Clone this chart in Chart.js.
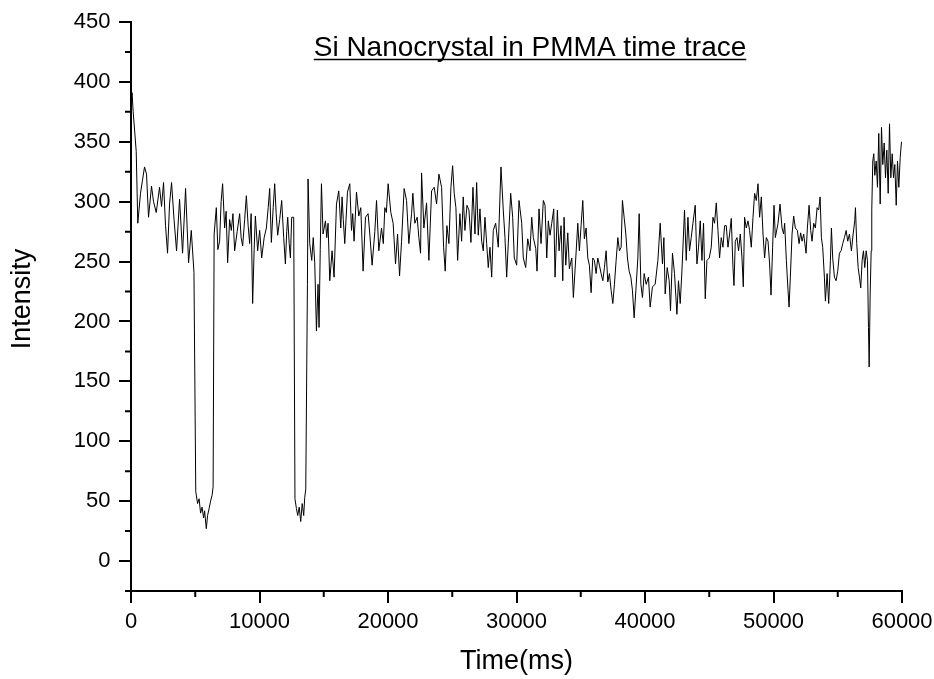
<!DOCTYPE html>
<html><head><meta charset="utf-8">
<script src="https://cdn.jsdelivr.net/npm/chart.js@4"></script>
<style>html,body{margin:0;padding:0;background:#fff}canvas{display:block}</style>
</head><body>
<canvas id="c" width="934" height="679"></canvas>
<script>
const titleText = 'Si Nanocrystal in PMMA time trace';
const xTitle = 'Time(ms)';
const yTitle = 'Intensity';
const xTickValues = [0, 10000, 20000, 30000, 40000, 50000, 60000];
const xMinorTicks = [5000, 15000, 25000, 35000, 45000, 55000];
const yTickValues = [0, 50, 100, 150, 200, 250, 300, 350, 400, 450];
const yMinorTicks = [-25, 25, 75, 125, 175, 225, 275, 325, 375, 425];

const timeMs = [0,80,170,405,530,740,896,1052,1208,1364,1597,1753,1964,2221,2377,2532,2688,2844,3000,3156,3350,3545,3779,4013,4247,4481,4691,4900,
5040,5180,5300,5415,5530,5650,5727,5860,5960,6080,6195,6310,6390,6470,6640,6760,6896,7013,7130,7286,7403,7520,7675,7808,7932,8065,8260,8455,8571,8688,8844,8977,9117,9234,9350,9467,9584,9678,9857,10013,10169,10363,10535,10675,10792,10924,11065,11182,11298,11415,11571,11727,11883,12015,12117,12195,12311,12405,12506,12662,
12760,12872,12974,13090,13207,13324,13441,13519,13600,13730,13777,13909,14065,14182,14298,14431,14556,14634,14727,14821,14946,15133,15234,15335,15468,15647,15803,15990,16169,16325,16426,16520,16636,16847,17026,17159,17252,17361,17548,17727,17883,18062,18249,18452,18584,18763,18974,19107,19286,19496,19636,19753,
19870,20010,20220,20400,20587,20743,20899,21055,21257,21444,21623,21833,21935,22090,22270,22402,22535,22613,22792,23002,23182,23392,23594,23781,23961,24171,24327,24452,24584,24740,24896,25028,25153,25285,25418,25597,25730,25854,25987,26143,26299,26455,26611,26767,26899,27024,27156,27289,27413,27546,27678,27803,27935,28068,28192,28379,28582,28792,28971,29103,29236,29360,29547,29703,29828,30015,30195,
30273,30405,30530,30717,30873,31052,31185,31310,31497,31597,31753,31909,32088,32220,32353,32478,32610,32743,32898,33000,33180,33312,33468,33601,33702,33834,33990,34114,34302,34426,34613,34769,34894,35026,35158,35283,35415,35548,35672,35805,35937,36062,36195,36327,36452,36584,36717,36841,36974,37106,37231,37363,37496,37621,37753,37886,38010,38143,38244,38376,38509,38634,38766,38899,39023,39156,39289,39444,39546,39678,39803,39935,40091,
40270,40401,40581,40791,41002,41181,41360,41469,41571,41727,41882,41984,42140,42296,42483,42607,42740,42873,42997,43075,43208,43341,43465,43598,43730,43909,44042,44167,44299,44432,44556,44689,44821,45000,45156,45289,45413,45546,45678,45803,45935,46068,46193,46325,46458,46582,46715,46847,46925,47026,47159,47282,47415,47548,47649,47750,47883,48015,48140,48272,48405,48530,48662,48794,48919,49052,49184,49309,49441,49574,49698,49807,49932,50041,50143,
50353,50509,50665,50789,50867,51000,51132,51210,51311,51444,51569,51701,51857,51990,52114,52223,52348,52535,52636,52769,52893,53002,53127,53259,53392,53517,53626,53727,53828,53961,54039,54171,54296,54429,54507,54608,54741,54873,54998,55130,55262,55387,55520,55652,55777,55909,56065,56198,56322,56377,56478,56587,56688,56789,56899,57000,57102,57211,57312,57390,57445,57523,57601,57648,57726,57804,57882,57991,58092,58193,58303,58404,58505,58614,58716,58817,58926,59028,59129,59238,59340,59441,59550,59651,59752,59861,59962];

const intensity = [370,391,375,342,282,307,318,329,323,287,313,300,291,312,296,316,280,257,298,316,285,259,302,257,311,249,276,241,
58,48,52,40,45,36,42,27,38,44,50,55,62,273,295,260,267,300,315,278,292,249,285,276,290,259,275,290,270,263,285,305,280,265,290,215,260,288,259,276,253,270,278,295,311,266,295,315,290,272,285,301,270,248,275,287,265,253,287,287,
52,44,38,45,33,48,38,53,60,231,319,265,251,270,249,192,231,195,260,315,273,284,270,282,234,259,237,298,309,278,304,285,265,308,315,276,290,267,308,288,295,242,287,290,273,247,275,301,259,278,265,295,
291,315,291,282,248,273,238,267,311,301,265,290,307,282,287,270,257,324,278,299,251,309,312,298,323,312,262,242,280,265,312,330,307,295,251,290,267,304,276,297,293,266,312,273,316,272,294,267,259,287,265,245,262,237,276,282,262,329,293,270,237,265,307,287,253,247,301,
294,282,253,245,269,259,287,270,261,242,294,265,301,297,253,284,272,282,294,237,293,259,280,234,287,247,274,244,253,220,253,282,259,280,301,269,278,253,247,224,253,251,240,253,247,240,234,245,259,233,240,226,215,231,251,270,259,262,301,287,273,253,242,237,226,203,226,253,290,231,220,240,231,
237,212,229,231,251,282,248,270,223,245,234,209,257,240,206,234,215,242,273,293,251,287,259,270,282,297,248,262,284,251,282,219,251,253,262,287,282,299,276,253,270,262,280,280,262,273,286,245,230,267,270,259,273,253,229,287,278,284,276,262,287,307,301,315,287,304,273,253,270,267,248,222,262,297,270,
282,298,278,273,282,251,226,212,237,273,288,278,276,265,274,267,273,257,278,297,276,267,282,278,295,293,304,270,262,237,217,240,215,251,278,253,237,234,242,257,259,265,270,276,267,273,259,273,284,295,265,245,237,228,251,259,245,259,251,195,162,223,259,293,334,340,322,334,312,357,298,362,331,349,320,343,307,365,320,340,320,331,297,334,312,337,350];

const points = timeMs.map((t, i) => ({ x: t, y: intensity[i] }));
const FONT = '"Liberation Sans", Arial, sans-serif';

const decor = {
  id: 'decor',
  afterDraw(chart) {
    const { ctx, scales: { x, y }, chartArea: a } = chart;
    ctx.save();
    ctx.strokeStyle = '#000';
    ctx.lineWidth = 2;
    ctx.beginPath();
    xMinorTicks.forEach(v => { const p = x.getPixelForValue(v); ctx.moveTo(p, a.bottom); ctx.lineTo(p, a.bottom + 6); });
    yMinorTicks.forEach(v => { const p = y.getPixelForValue(v); ctx.moveTo(a.left, p); ctx.lineTo(a.left - 6, p); });
    ctx.stroke();
    ctx.fillStyle = '#000';
    // chart title (underlined)
    ctx.font = '28px ' + FONT;
    ctx.textAlign = 'center';
    ctx.textBaseline = 'alphabetic';
    const cx = 530, by = 56;
    ctx.fillText(titleText, cx, by);
    const w = ctx.measureText(titleText).width;
    ctx.lineWidth = 1.5;
    ctx.beginPath();
    ctx.moveTo(cx - w / 2, by + 3.5);
    ctx.lineTo(cx + w / 2, by + 3.5);
    ctx.stroke();
    // y axis title
    ctx.font = '27px ' + FONT;
    ctx.translate(23, 299);
    ctx.rotate(-Math.PI / 2);
    ctx.textBaseline = 'middle';
    ctx.fillText(yTitle, 0, 0);
    ctx.restore();
  }
};

new Chart(document.getElementById('c'), {
  type: 'line',
  data: { datasets: [{ data: points, borderColor: '#000', borderWidth: 1, pointRadius: 0, tension: 0, fill: false }] },
  options: {
    responsive: false, animation: false, devicePixelRatio: 1,
    layout: { padding: { left: 0, right: 32, top: 22, bottom: 0 } },
    plugins: { legend: { display: false }, tooltip: { enabled: false } },
    scales: {
      x: {
        type: 'linear', min: 0, max: 60000,
        afterBuildTicks: s => { s.ticks = xTickValues.map(v => ({ value: v })); },
        afterFit: s => { s.height = 88; s.paddingLeft = 0; s.paddingRight = 0; },
        ticks: { autoSkip: false, maxRotation: 0, color: '#000', font: { family: FONT, size: 22 }, padding: 6, callback: v => String(v) },
        grid: { drawOnChartArea: false, drawTicks: true, tickLength: 12, color: '#000', lineWidth: 2 },
        border: { display: true, color: '#000', width: 2 },
        title: { display: true, text: xTitle, color: '#000', font: { family: FONT, size: 27 }, padding: { top: 0, bottom: 1 } }
      },
      y: {
        type: 'linear', min: -25, max: 450,
        afterBuildTicks: s => { s.ticks = yTickValues.map(v => ({ value: v })); },
        afterFit: s => { s.width = 131; s.paddingTop = 0; s.paddingBottom = 0; },
        ticks: { color: '#000', font: { family: FONT, size: 22 }, padding: 8.5, callback: v => String(v) },
        grid: { drawOnChartArea: false, drawTicks: true, tickLength: 12, color: '#000', lineWidth: 2 },
        border: { display: true, color: '#000', width: 2 },
        title: { display: false }
      }
    }
  },
  plugins: [decor]
});
</script>
</body></html>
